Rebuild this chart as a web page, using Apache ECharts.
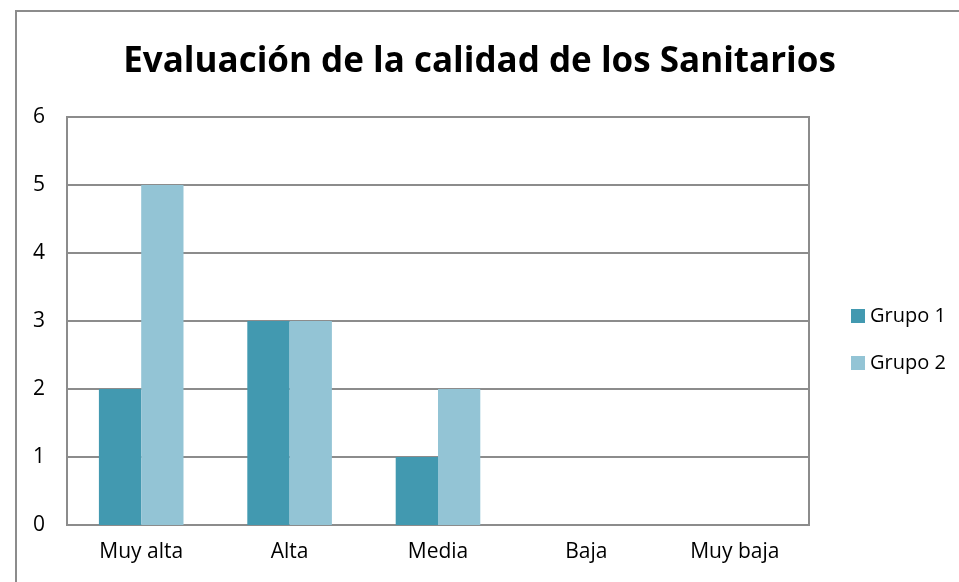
<!DOCTYPE html>
<html><head><meta charset="utf-8">
<script src="https://cdn.jsdelivr.net/npm/echarts@6/dist/echarts.min.js"></script>
<style>html,body{margin:0;padding:0;background:#fff}#c{width:959px;height:582px}</style>
</head><body><div id="c"></div>
<script>
const categories = ["Muy alta", "Alta", "Media", "Baja", "Muy baja"];
const grupo1 = [2, 3, 1, 0, 0];
const grupo2 = [5, 3, 2, 0, 0];
const seriesNames = ["Grupo 1", "Grupo 2"];
const titleText = "Evaluación de la calidad de los Sanitarios";
const font = "Open Sans";

const chart = echarts.init(document.getElementById('c'), null, {renderer: 'canvas'});
chart.setOption({
  animation: false,
  backgroundColor: '#fff',
  graphic: [{type: 'rect', shape: {x: 16, y: 11, width: 1000, height: 700}, style: {fill: 'none', stroke: '#8c8c8c', lineWidth: 2}, silent: true}],
  title: {text: titleText, left: 'center', top: 40, textStyle: {fontFamily: font, fontWeight: 'bold', fontSize: 35, color: '#000'}},
  grid: {left: 67, top: 117, right: 150, bottom: 57, show: true, borderColor: '#8c8c8c', borderWidth: 2, backgroundColor: 'transparent'},
  legend: {orient: 'vertical', left: 851, top: 306, padding: 0, itemWidth: 14, itemHeight: 14, itemGap: 27, icon: 'rect',
    textStyle: {fontFamily: font, fontSize: 20, color: '#000'}, data: seriesNames},
  xAxis: {type: 'category', data: categories, axisTick: {show: false},
    axisLine: {lineStyle: {color: '#8c8c8c', width: 2}},
    axisLabel: {fontFamily: font, fontSize: 21, color: '#000', margin: 17}},
  yAxis: {type: 'value', min: 0, max: 6, interval: 1,
    axisLine: {show: true, lineStyle: {color: '#8c8c8c', width: 2}}, axisTick: {show: false},
    splitLine: {lineStyle: {color: '#8c8c8c', width: 2}},
    axisLabel: {fontFamily: font, fontSize: 21, color: '#000', margin: 22}},
  series: [
    {name: seriesNames[0], type: 'bar', data: grupo1, itemStyle: {color: '#4299b0'}, barGap: '0%', barCategoryGap: '43%'},
    {name: seriesNames[1], type: 'bar', data: grupo2, itemStyle: {color: '#93c4d5'}, barGap: '0%', barCategoryGap: '43%'}
  ]
});
</script></body></html>
